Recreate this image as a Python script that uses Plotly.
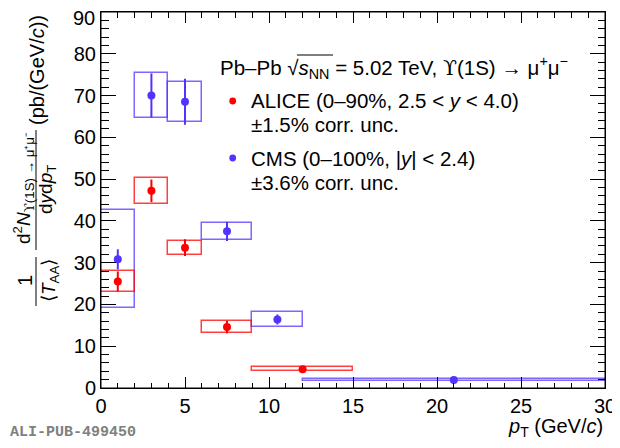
import plotly.graph_objects as go

# ALICE 0-90%, 2.5 < y < 4.0
alice_lo = [0, 2, 4, 6, 9]
alice_hi = [2, 4, 6, 9, 15]
alice_x = [1, 3, 5, 7.5, 12]
alice_y = [25.5, 47.2, 33.6, 14.6, 4.5]
alice_stat = [2.4, 2.7, 2.0, 1.5, 0.4]
alice_syst = [2.45, 3.05, 1.7, 1.4, 0.48]

# CMS 0-100%, |y| < 2.4
cms_lo = [0, 2, 4, 6, 9, 12]
cms_hi = [2, 4, 6, 9, 12, 30]
cms_x = [1, 3, 5, 7.5, 10.5, 21]
cms_y = [30.8, 70.0, 68.5, 37.5, 16.4, 1.9]
cms_stat = [2.4, 5.3, 5.5, 2.3, 1.2, 0.2]
cms_syst = [11.7, 5.35, 4.8, 2.05, 1.7, 0.3]

y_ticks = [0, 10, 20, 30, 40, 50, 60, 70, 80, 90]

RED = "rgb(255,0,0)"
RED_BOX = "rgba(255,0,0,0.75)"
BLUE = "rgb(82,52,255)"
BLUE_BOX = "rgba(82,52,255,0.75)"
FONT = "Liberation Sans"
UPS = "<span style=\"font-family:'DejaVu Serif'\">ϒ</span>"

# the page puts the figure 8 px in from the top-left corner of the window
OFF = 8
FIG_W, FIG_H = 620 - OFF, 448 - OFF

# plot frame, in window pixels
L, R, T, B = 101, 605, 12, 388
W, H = R - L, B - T


def px(x):
    return (x - L) / W


def py(y):
    return (B - y) / H


def boxes(lo, hi, y, syst, line_color):
    centers = [(a + b) / 2 for a, b in zip(lo, hi)]
    widths = [b - a for a, b in zip(lo, hi)]
    return go.Bar(
        x=centers, y=[2 * s for s in syst], base=[v - s for v, s in zip(y, syst)],
        width=widths, marker=dict(color="rgba(0,0,0,0)", line=dict(color=line_color, width=1.5)),
        showlegend=False, hoverinfo="skip",
    )


def points(x, y, stat, color):
    return go.Scatter(
        x=x, y=y, mode="markers",
        marker=dict(color=color, size=8),
        error_y=dict(type="data", array=stat, visible=True, width=0, thickness=2, color=color),
        showlegend=False,
    )


fig = go.Figure()
fig.add_trace(boxes(cms_lo, cms_hi, cms_y, cms_syst, BLUE_BOX))
fig.add_trace(boxes(alice_lo, alice_hi, alice_y, alice_syst, RED_BOX))
fig.add_trace(points(cms_x, cms_y, cms_stat, BLUE))
fig.add_trace(points(alice_x, alice_y, alice_stat, RED))

axis_common = dict(
    showgrid=False, zeroline=False, showline=True, linecolor="black", linewidth=1,
    mirror="ticks", ticks="inside", tickcolor="black", automargin=False,
    tickfont=dict(family=FONT, size=20, color="black"),
)
fig.update_xaxes(range=[0, 30], dtick=5, ticklen=11,
                 minor=dict(dtick=1, ticks="inside", ticklen=5.5, tickcolor="black"),
                 **axis_common)
# top label sits at the page edge, so it is drawn as an annotation a little lower
fig.update_yaxes(range=[0, 90], tickvals=y_ticks,
                 ticktext=[str(v) for v in y_ticks[:-1]] + [""], ticklen=15,
                 minor=dict(dtick=2, ticks="inside", ticklen=7.5, tickcolor="black"),
                 **axis_common)

ann = []
shapes = []


def text(x, y, s, size=20, anchor="left", angle=0, color="black", family=FONT):
    ann.append(dict(x=px(x), y=py(y), xref="paper", yref="paper", text=s, showarrow=False,
                    xanchor=anchor, yanchor="middle", textangle=angle,
                    font=dict(family=family, size=size, color=color)))


def line(x0, y0, x1, y1):
    shapes.append(dict(type="line", xref="paper", yref="paper", x0=px(x0), x1=px(x1),
                       y0=py(y0), y1=py(y1), line=dict(color="black", width=1)))


def dot(cx, cy, color, r=3.4):
    shapes.append(dict(type="circle", xref="paper", yref="paper",
                       x0=px(cx - r), x1=px(cx + r), y0=py(cy + r), y1=py(cy - r),
                       fillcolor=color, line=dict(width=0)))


# frame around the plot area
shapes.append(dict(type="rect", xref="paper", yref="paper", x0=0, x1=1, y0=0, y1=1,
                   line=dict(color="black", width=1), layer="above"))

text(L - 4, 18, str(y_ticks[-1]), anchor="right")

# legend block
text(218, 67, "Pb–Pb √<i>s</i><sub>NN</sub> = 5.02 TeV, " + UPS + "(1S) → μ<sup>+</sup>μ<sup>−</sup>", size=20.5)
line(297, 55, 333, 55)
text(249, 101, "ALICE (0–90%, 2.5 &lt; <i>y</i> &lt; 4.0)", size=20.5)
text(249, 125, "±1.5% corr. unc.", size=20.5)
text(249, 158, "CMS (0–100%, |<i>y</i>| &lt; 2.4)", size=20.5)
text(249, 182, "±3.6% corr. unc.", size=20.5)
dot(232.7, 101, RED)
dot(232.7, 158, BLUE)

# x title
text(605, 427, "<i>p</i><sub>T</sub> (GeV/<i>c</i>)", anchor="right")

# y title built from pieces
text(37, 70, "(pb/(GeV/<i>c</i>))", anchor="center", angle=-90)
text(23, 188, "d<sup>2</sup><i>N</i><sub>" + UPS + "(1S) → μ⁺μ⁻</sub>", size=19, anchor="center", angle=-90)
text(47, 190, "d<i>y</i>d<i>p</i><sub>T</sub>", size=19, anchor="center", angle=-90)
line(36, 130, 36, 250)
text(25, 281, "1", anchor="center", angle=-90)
text(50, 281, "⟨<i>T</i><sub>AA</sub>⟩", size=19, anchor="center", angle=-90)
line(36, 257, 36, 306)

# publication tag
text(OFF, 432, "<b>ALI-PUB-499450</b>", size=15, color="rgb(128,128,128)", family="Liberation Mono")

fig.update_layout(
    width=FIG_W, height=FIG_H,
    margin=dict(l=L - OFF, r=620 - R, t=T - OFF, b=448 - B, autoexpand=False),
    plot_bgcolor="white", paper_bgcolor="white", barmode="overlay", bargap=0,
    annotations=ann, shapes=shapes, showlegend=False,
    font=dict(family=FONT, color="black"),
)

fig.write_html("out.html")
